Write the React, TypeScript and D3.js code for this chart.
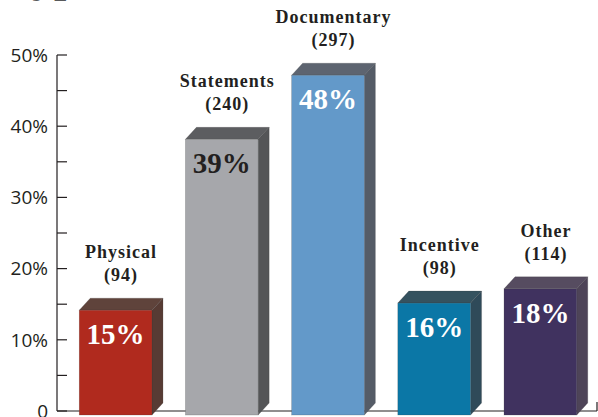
import * as d3 from 'd3';

// chart data
const categories = ['Physical', 'Statements', 'Documentary', 'Incentive', 'Other'];
const counts = [94, 240, 297, 98, 114];
const percents = [15, 39, 48, 16, 18];
const yTicks = [0, 10, 20, 30, 40, 50];
const minorTicks = [5, 15, 25, 35, 45];

const frontColors = ['#b02a1e', '#a6a7ab', '#6399c9', '#0b77a6', '#40325f'];
const sideColors = ['#573b34', '#545557', '#555c67', '#2f4a59', '#4e4458'];
const topColors = ['#5f433b', '#5c5d60', '#5d6470', '#35525f', '#564c60'];
const valueColors = ['#ffffff', '#231f20', '#ffffff', '#ffffff', '#ffffff'];

const W = 598;
const H = 417;
const axisX = 57;
const baseY = 411;
const dx = 11;
const dy = 12;

export default function App() {
  const x = d3.scaleBand<string>()
    .domain(categories)
    .range([58, 598])
    .paddingInner(0.315)
    .paddingOuter(0.2);

  const y = d3.scaleLinear().domain([0, 50]).range([baseY, 55]);
  const bw = x.bandwidth();

  return (
    <svg width={W} height={H} style={{ position: 'absolute', left: 0, top: 0, background: '#fff' }}>
      {/* cropped title, only the descenders show */}
      <text x={6} y={-8} fontFamily="Liberation Serif" fontWeight="bold" fontSize={44} fill="#58595b">Types</text>

      {/* y axis */}
      <line x1={axisX} x2={axisX} y1={y(50)} y2={baseY} stroke="#231f20" strokeWidth={1.2} />
      {yTicks.map(t => (
        <g key={t}>
          <line x1={axisX} x2={axisX + 10} y1={y(t)} y2={y(t)} stroke="#231f20" strokeWidth={1.2} />
          <text x={48} y={y(t)} dy="0.36em" textAnchor="end" fontFamily="Open Sans" fontSize={19} fill="#231f20">
            {t === 0 ? '0' : t + '%'}
          </text>
        </g>
      ))}
      {minorTicks.map(t => (
        <line key={t} x1={axisX} x2={axisX + 10} y1={y(t)} y2={y(t)} stroke="#231f20" strokeWidth={1.2} />
      ))}

      {/* baseline */}
      <line x1={axisX} x2={597} y1={baseY} y2={baseY} stroke="#231f20" strokeWidth={1.2} />
      <line x1={597} x2={597} y1={baseY - 9} y2={baseY} stroke="#231f20" strokeWidth={1.2} />

      {/* bars */}
      {categories.map((c, i) => {
        const x0 = x(c) as number;
        const x1 = x0 + bw;
        const ft = y(percents[i]) + dy / 2;
        const bottom = baseY + 4;
        const top = `${x0},${ft} ${x0 + dx},${ft - dy} ${x1 + dx},${ft - dy} ${x1},${ft}`;
        const side = `${x1},${ft} ${x1 + dx},${ft - dy} ${x1 + dx},${bottom - dy} ${x1},${bottom}`;
        const cx = x0 + bw / 2;
        return (
          <g key={c}>
            <polygon points={side} fill={sideColors[i]} stroke="#3a3a3a" strokeOpacity={0.35} strokeWidth={0.6} />
            <polygon points={top} fill={topColors[i]} stroke="#3a3a3a" strokeOpacity={0.35} strokeWidth={0.6} />
            <rect x={x0} y={ft} width={bw} height={bottom - ft} fill={frontColors[i]} stroke="#3a3a3a" strokeOpacity={0.35} strokeWidth={0.6} />
            <text x={cx} y={ft + 34} textAnchor="middle" fontFamily="Liberation Serif" fontWeight="bold" fontSize={29} fill={valueColors[i]}>
              {percents[i]}%
            </text>
            <text x={cx + dx / 2} y={ft - dy - 40} textAnchor="middle" fontFamily="Liberation Serif" fontWeight="bold" fontSize={18} letterSpacing={1} fill="#231f20">
              {c}
            </text>
            <text x={cx + dx / 2} y={ft - dy - 17} textAnchor="middle" fontFamily="Liberation Serif" fontWeight="bold" fontSize={18} letterSpacing={1} fill="#231f20">
              ({counts[i]})
            </text>
          </g>
        );
      })}
    </svg>
  );
}
